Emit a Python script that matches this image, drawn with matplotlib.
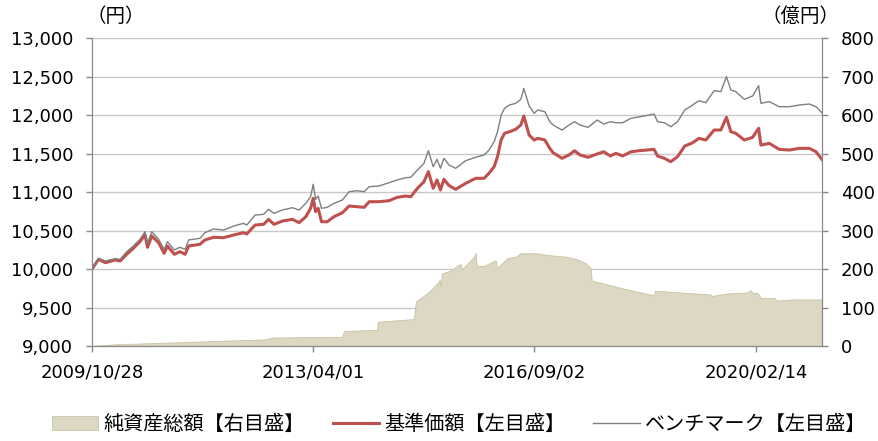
import matplotlib
matplotlib.use("Agg")
import matplotlib.pyplot as plt
import matplotlib.dates as mdates
import numpy as np
import pandas as pd

plt.rcParams['font.family'] = ['DejaVu Sans', 'Noto Sans CJK JP']

# dates shared by the two price lines
line_dates = [
    '2009-10-28', '2009-12-04', '2010-01-11', '2010-03-07', '2010-04-05', '2010-05-12',
    '2010-06-19', '2010-07-26', '2010-08-24', '2010-09-07', '2010-10-01', '2010-11-09',
    '2010-12-10', '2010-12-29', '2011-02-06', '2011-03-09', '2011-04-08', '2011-04-28',
    '2011-07-01', '2011-07-29', '2011-09-16', '2011-11-12', '2012-01-08', '2012-03-03',
    '2012-03-22', '2012-05-08', '2012-06-25', '2012-07-23', '2012-08-23', '2012-10-09',
    '2012-12-05', '2013-01-12', '2013-02-19', '2013-03-18', '2013-04-02', '2013-04-15',
    '2013-04-30', '2013-05-19', '2013-06-20', '2013-07-28', '2013-09-14', '2013-10-22',
    '2013-12-08', '2014-01-15', '2014-02-13', '2014-04-09', '2014-06-05', '2014-07-21',
    '2014-09-08', '2014-10-06', '2014-11-13', '2014-12-20', '2015-01-14', '2015-02-10',
    '2015-03-04', '2015-03-23', '2015-04-12', '2015-05-10', '2015-06-17', '2015-08-13',
    '2015-10-09', '2015-11-25', '2015-12-23', '2016-01-21', '2016-02-09', '2016-03-01',
    '2016-03-20', '2016-04-17', '2016-05-22', '2016-06-20', '2016-07-07', '2016-08-06',
    '2016-09-04', '2016-09-23', '2016-11-03', '2016-12-01', '2016-12-20', '2017-02-08',
    '2017-03-20', '2017-04-20', '2017-05-21', '2017-07-06', '2017-08-26', '2017-10-02',
    '2017-11-09', '2017-12-10', '2018-01-17', '2018-03-06', '2018-04-20', '2018-07-14',
    '2018-08-03', '2018-09-10', '2018-10-17', '2018-11-24', '2019-01-04', '2019-02-18',
    '2019-03-25', '2019-05-03', '2019-06-19', '2019-07-27', '2019-08-28', '2019-09-22',
    '2019-10-20', '2019-12-07', '2020-01-23', '2020-02-26', '2020-03-10', '2020-04-26',
    '2020-06-22', '2020-08-18', '2020-10-13', '2020-12-09', '2021-01-16', '2021-02-18',
]

# 基準価額 (left axis, yen)
nav = [
    10000, 10126, 10082, 10117, 10104, 10191, 10269, 10355, 10442, 10282, 10429, 10342,
    10204, 10299, 10191, 10225, 10191, 10299, 10321, 10377, 10412, 10407, 10442, 10472,
    10455, 10571, 10580, 10645, 10580, 10623, 10645, 10602, 10679, 10788, 10918, 10745,
    10788, 10614, 10614, 10679, 10731, 10818, 10809, 10801, 10874, 10874, 10887, 10931,
    10948, 10939, 11048, 11134, 11264, 11048, 11156, 11026, 11165, 11085, 11035, 11113,
    11178, 11178, 11243, 11329, 11459, 11680, 11762, 11783, 11814, 11870, 11987, 11740,
    11675, 11697, 11675, 11567, 11510, 11438, 11481, 11536, 11481, 11451, 11494, 11523,
    11468, 11503, 11468, 11523, 11536, 11554, 11468, 11438, 11394, 11459, 11597, 11640,
    11697, 11675, 11805, 11805, 11970, 11783, 11762, 11675, 11710, 11827, 11610, 11632,
    11554, 11545, 11567, 11567, 11523, 11424,
]

# ベンチマーク (left axis, yen)
bench = [
    10000, 10139, 10104, 10134, 10126, 10225, 10299, 10385, 10485, 10334, 10485, 10385,
    10256, 10355, 10247, 10282, 10256, 10377, 10399, 10472, 10519, 10506, 10558, 10593,
    10571, 10701, 10710, 10775, 10723, 10766, 10796, 10766, 10853, 10939, 11100, 10905,
    10948, 10788, 10801, 10853, 10896, 11004, 11017, 11004, 11069, 11078, 11121, 11156,
    11186, 11191, 11286, 11373, 11536, 11329, 11424, 11308, 11438, 11351, 11308, 11407,
    11451, 11481, 11545, 11653, 11783, 12000, 12087, 12130, 12152, 12204, 12346, 12117,
    12022, 12065, 12043, 11913, 11870, 11805, 11870, 11913, 11870, 11840, 11935, 11883,
    11913, 11900, 11900, 11957, 11975, 12013, 11913, 11900, 11848, 11913, 12065, 12130,
    12186, 12160, 12316, 12303, 12498, 12325, 12303, 12204, 12247, 12381, 12152, 12173,
    12108, 12108, 12130, 12143, 12108, 12030,
]

# 純資産総額 (right axis, 億円)
aum_dates = [
    '2009-10-28', '2010-03-09', '2010-12-18', '2012-07-07', '2012-08-13', '2013-09-14',
    '2013-09-23', '2014-03-29', '2014-04-03', '2014-10-24', '2014-11-04', '2015-01-18',
    '2015-03-14', '2015-03-18', '2015-03-23', '2015-04-02', '2015-05-28', '2015-06-17',
    '2015-07-15', '2015-07-24', '2015-09-29', '2015-10-09', '2015-10-14', '2015-11-25',
    '2016-01-30', '2016-02-06', '2016-04-05', '2016-05-22', '2016-06-20', '2016-09-14',
    '2016-11-28', '2017-03-01', '2017-05-06', '2017-06-23', '2017-07-21', '2017-07-26',
    '2017-10-14', '2017-12-29', '2018-03-04', '2018-05-18', '2018-07-14', '2018-07-20',
    '2018-12-09', '2019-05-30', '2019-06-06', '2019-09-13', '2019-12-25', '2020-01-09',
    '2020-01-23', '2020-02-21', '2020-03-10', '2020-05-24', '2020-06-07', '2020-09-06',
    '2021-02-18',
]
aum = [
    0, 4.4, 8.7, 17.3, 22, 24,
    39, 42, 63, 70, 115, 141,
    167, 173, 156, 189, 197, 206,
    213, 199, 232, 242, 208, 208,
    223, 202, 228, 232, 241, 241,
    236, 232, 225, 215, 202, 170,
    161, 152, 145, 137, 132, 144,
    139, 134, 130, 137, 139, 145,
    138, 137, 125, 125, 118, 121,
    121,
]

tick_dates = ['2009-10-28', '2013-04-01', '2016-09-02', '2020-02-14']

line_x = pd.to_datetime(line_dates)
aum_x = pd.to_datetime(aum_dates)

fig = plt.figure(figsize=(8.79, 4.41), dpi=100)
ax = fig.add_axes([0.1047, 0.2154, 0.8305, 0.6984])
ax2 = ax.twinx()

# area on the right axis, grid drawn below it
ax2.set_axisbelow(True)
ax2.yaxis.grid(True, color='#c8c8c8', lw=1.0)
area = ax2.fill_between(aum_x, aum, 0, color='#ddd8c3', edgecolor='#c9c2a3', lw=0.6,
                        label='純資産総額【右目盛】')
ax2.set_ylim(0, 800)
ax2.set_yticks(np.arange(0, 801, 100))

# lines on the left axis, on top
ax.set_zorder(ax2.get_zorder() + 1)
ax.patch.set_visible(False)
l1, = ax.plot(line_x, nav, color='#c0504d', lw=2.2, label='基準価額【左目盛】')
l2, = ax.plot(line_x, bench, color='#7f7f7f', lw=1.0, label='ベンチマーク【左目盛】')
ax.set_ylim(9000, 13000)
ax.set_yticks(np.arange(9000, 13001, 500))
ax.yaxis.set_major_formatter(matplotlib.ticker.FuncFormatter(lambda v, p: f'{int(v):,}'))

ax.set_xlim(pd.Timestamp('2009-10-28'), pd.Timestamp('2021-02-19'))
ax.set_xticks(pd.to_datetime(tick_dates))
ax.xaxis.set_major_formatter(mdates.DateFormatter('%Y/%m/%d'))

for a in (ax, ax2):
    for s in a.spines.values():
        s.set_color('#888888')
    a.spines['top'].set_visible(False)
    a.tick_params(colors='#888888', labelcolor='black', labelsize=13, length=4.5, width=1,
                  pad=9)
ax.tick_params(axis='x', pad=8)

unit_font = ['Noto Sans CJK JP', 'DejaVu Sans']
fig.text(0.098, 0.962, '（円）', fontsize=14, ha='left', va='center', family=unit_font)
fig.text(0.955, 0.962, '（億円）', fontsize=14, ha='right', va='center', family=unit_font)

fig.legend(handles=[area, l1, l2], loc='lower center', bbox_to_anchor=(0.522, -0.025),
           ncol=3, frameon=False, fontsize=14.5, handlelength=2.3, columnspacing=1.4,
           handletextpad=0.25)

fig.savefig('out.png', dpi=100)
